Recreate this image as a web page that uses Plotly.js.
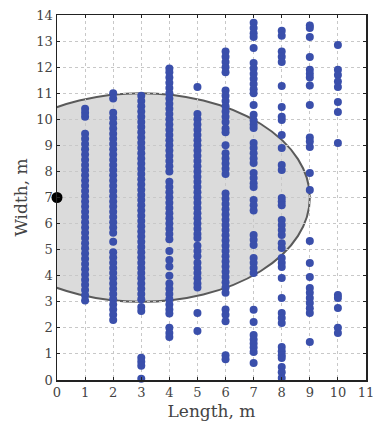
<!DOCTYPE html>
<html>
<head>
<meta charset="utf-8">
<script src="https://cdn.plot.ly/plotly-3.0.1.min.js"></script>
<style>html,body{margin:0;padding:0;background:#fff;}#chart{width:376px;height:428px;}</style>
</head>
<body>
<div id="chart"></div>
<script>
// Measured widths (m) at each length (m)
const col1 = [10.4,10.25,10.1,9.45,9.25,9.05,8.85,8.65,8.45,8.25,8.05,7.85,7.65,7.45,7.25,7.05,6.85,6.65,6.45,6.25,6.05,5.85,5.65,5.45,5.25,5.05,4.85,4.65,4.45,4.25,4.05,3.85,3.65,3.45,3.25,3.05];
const col2 = [11.0,10.8,10.25,10.05,9.85,9.65,9.45,9.25,9.05,8.85,8.65,8.45,8.25,8.05,7.85,7.65,7.45,7.25,7.05,6.85,6.65,6.45,6.25,6.05,5.85,5.65,5.3,4.9,4.7,4.5,4.3,4.1,3.9,3.7,3.5,3.3,3.1,2.9,2.7,2.5,2.3];
const col3 = [10.9,10.7,10.5,10.3,10.1,9.9,9.7,9.5,9.3,9.1,8.9,8.7,8.5,8.3,8.1,7.9,7.7,7.5,7.3,7.1,6.9,6.7,6.5,6.3,6.1,5.9,5.7,5.5,5.3,5.1,4.9,4.7,4.5,4.3,4.1,3.9,3.7,3.5,3.3,3.1,2.8,2.65,0.85,0.7,0.55,0.05];
const col4 = [11.95,11.8,11.6,11.4,11.2,11.0,10.8,10.6,10.4,10.2,10.0,9.8,9.6,9.4,9.2,9.0,8.8,8.6,8.4,8.2,8.0,7.6,7.4,7.2,7.0,6.8,6.6,6.4,6.2,6.0,5.8,5.6,5.4,4.95,4.6,4.35,4.0,3.7,3.5,3.3,3.1,2.9,2.7,2.55,2.0,1.8,1.65];
const col5 = [11.24,10.2,10.0,9.8,9.6,9.4,9.2,9.0,8.8,8.6,8.4,8.2,8.0,7.8,7.6,7.4,7.2,7.0,6.8,6.6,6.4,6.2,6.0,5.8,5.6,5.45,5.15,4.95,4.75,4.5,4.3,4.1,3.9,3.7,3.55,2.57,1.88];
const col6 = [12.6,12.4,12.2,12.0,11.8,11.1,10.9,10.7,10.5,10.3,10.1,9.9,9.65,9.5,9.0,8.7,8.5,8.3,8.1,7.9,7.15,6.95,6.75,6.55,6.35,6.15,5.95,5.75,5.55,5.35,5.15,4.95,4.75,4.55,4.35,4.15,3.95,3.75,3.55,3.35,2.7,2.5,2.25,0.95,0.8];
const col7 = [13.7,13.5,13.3,13.16,12.73,12.16,11.95,11.75,11.55,11.35,11.15,11.0,10.55,10.17,9.95,9.8,9.67,9.09,8.9,8.7,8.5,8.32,7.94,7.75,7.55,7.4,6.9,6.7,6.5,5.56,5.38,5.18,4.68,4.5,4.3,4.1,2.69,2.22,1.73,1.55,1.4,1.25,1.07,0.65];
const col8 = [13.4,13.2,12.6,12.4,12.2,11.28,10.47,10.1,9.97,9.4,8.9,8.25,8.05,6.98,6.85,6.7,6.14,5.95,5.75,5.56,5.25,5.06,4.68,4.5,4.33,3.91,3.15,2.57,2.38,2.19,1.27,1.1,0.95,0.84,0.5,0.3,0.08];
const col9 = [13.6,13.5,13.16,12.39,11.9,11.75,11.6,11.3,10.55,9.3,9.15,8.94,7.94,7.29,5.33,4.49,3.95,3.53,3.35,3.15,2.95,2.75,2.57,1.46];
const col10 = [12.85,11.9,11.7,11.45,11.24,10.66,10.28,9.09,3.26,3.15,2.76,2.0,1.8];
const lengths = [1,2,3,4,5,6,7,8,9,10];
const widthCols = [col1,col2,col3,col4,col5,col6,col7,col8,col9,col10];
// Reference point and envelope ellipse (center, semi-axes)
const refPoint = {x:[0], y:[7]};
const ellipseCenter = [3, 7];
const ellipseRadii = [6, 4];
const xTicks = [0,1,2,3,4,5,6,7,8,9,10,11];
const yTicks = [0,1,2,3,4,5,6,7,8,9,10,11,12,13,14];

const px = [], py = [];
lengths.forEach((L,i)=>{ widthCols[i].forEach(w=>{ px.push(L); py.push(w); }); });

const traces = [
  {x:px, y:py, type:'scatter', mode:'markers', cliponaxis:false,
   marker:{color:'#3a4fab', size:8, line:{width:0}}, hoverinfo:'x+y'},
  {x:refPoint.x, y:refPoint.y, type:'scatter', mode:'markers', cliponaxis:false,
   marker:{color:'#000', size:11}}
];

const font = {family:'"DejaVu Serif", "Liberation Serif", serif', color:'#333'};
const axisCommon = {
  showgrid:true, gridcolor:'#c8c8c8', griddash:'dot', gridwidth:1,
  zeroline:false, showline:true, linecolor:'#222', linewidth:1.5, mirror:'ticks',
  ticks:'inside', ticklen:3, tickcolor:'#222', ticklabeloverflow:'allow',
  tickfont:{family:font.family, size:13, color:'#444'}
};
const layout = {
  width:376, height:428,
  margin:{l:57, r:10, t:15, b:48},
  paper_bgcolor:'#fff', plot_bgcolor:'#fff',
  showlegend:false,
  xaxis:Object.assign({}, axisCommon, {range:[0,11], tickvals:xTicks, ticktext:xTicks.map(String),
    title:{text:'Length, m', font:{family:font.family, size:17, color:'#444'}, standoff:6}}),
  yaxis:Object.assign({}, axisCommon, {range:[0,14], tickvals:yTicks, ticktext:yTicks.map(String),
    title:{text:'Width, m', font:{family:font.family, size:17, color:'#444'}, standoff:4}}),
  shapes:[{type:'circle', xref:'x', yref:'y', layer:'below',
    x0:ellipseCenter[0]-ellipseRadii[0], x1:ellipseCenter[0]+ellipseRadii[0],
    y0:ellipseCenter[1]-ellipseRadii[1], y1:ellipseCenter[1]+ellipseRadii[1],
    fillcolor:'rgba(200,200,200,0.65)', line:{color:'#5a5a5a', width:2}}]
};
Plotly.newPlot('chart', traces, layout, {displayModeBar:false, staticPlot:true});
</script>
</body>
</html>
